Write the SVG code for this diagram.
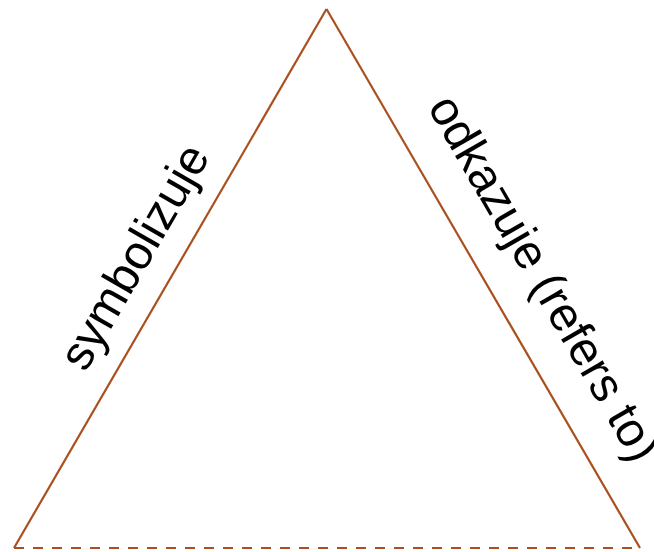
<svg xmlns="http://www.w3.org/2000/svg" width="654" height="552" viewBox="0 0 654 552">
<style>
.edge{stroke:#a9501f;stroke-width:2.2;fill:none;stroke-linecap:butt}
.dash{stroke-dasharray:10 9}
.lbl{font-family:"Liberation Sans",Arial,sans-serif;font-size:48px;fill:#000;text-anchor:middle}
</style>
<rect width="654" height="552" fill="#fff"/>
<g id="connectors">
<line class="edge" x1="326.5" y1="9" x2="14" y2="548"/>
<line class="edge" x1="326.5" y1="9" x2="640" y2="548"/>
<line class="edge dash" x1="14" y1="548" x2="640" y2="548"/>
</g>
<g id="label-left" transform="translate(170.25,278.5) rotate(-60)">
<text class="lbl" x="1" y="-26">symbolizuje</text>
</g>
<g id="label-right" transform="translate(483.25,278.5) rotate(60)">
<text class="lbl" x="30" y="-37">odkazuje (refers to)</text>
</g>
</svg>
